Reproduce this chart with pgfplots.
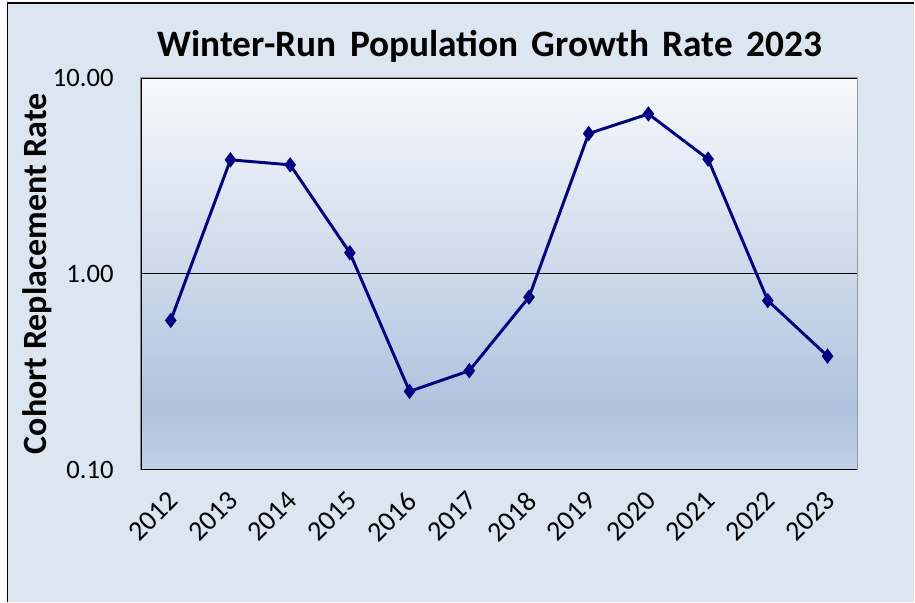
\documentclass[border=0pt]{standalone}
\usepackage{fontspec}
\setmainfont{Carlito}
\usepackage{pgfplots}
\pgfplotsset{compat=1.18}

\definecolor{chartbg}{HTML}{DCE6F1}
\definecolor{plottop}{HTML}{F7F9FC}
\definecolor{plotdark}{HTML}{AFC3DE}
\definecolor{plotbot}{HTML}{C0D0E6}
\definecolor{navyline}{HTML}{000080}
\pgfdeclareverticalshading{plotbg}{100bp}{color(0bp)=(plotbot); color(25bp)=(plotbot); color(33bp)=(plotdark); color(75bp)=(plottop); color(100bp)=(plottop)}

\begin{document}
\begin{tikzpicture}
% chart area (1px = 0.75pt)
\fill[white] (0,0) rectangle (686.25pt,451.5pt);
\fill[chartbg] (5.5pt,0) rectangle (686.25pt,449.25pt);
\draw[black, line width=1pt] (5.5pt,0) -- (5.5pt,449.25pt) -- (686.25pt,449.25pt);

\begin{axis}[
    at={(105.75pt,99pt)}, anchor=south west,
    scale only axis, width=537.75pt, height=294pt,
    ymode=log, ymin=0.1, ymax=10,
    xmin=-0.5, xmax=11.5,
    xtick={0,...,11},
    xticklabels={2012,2013,2014,2015,2016,2017,2018,2019,2020,2021,2022,2023},
    ytick={0.1,1,10}, yticklabels={0.10,1.00,10.00},
    yminorticks=false,
    major tick length=0pt,
    ymajorgrids, grid style={black, line width=0.9pt},
    axis line style={gray!80, line width=0.8pt},
    axis background/.style={shading=plotbg},
    /pgf/number format/assume math mode=true,
    yticklabel style={font=\fontsize{20}{24}\selectfont, xshift=-17pt},
    xticklabel style={font=\fontsize{21}{25}\selectfont, xshift=-3pt, yshift=-15pt, rotate=45, anchor=north east, inner sep=0pt},
    title={Winter-Run\hspace{10pt}Population\hspace{10pt}Growth\hspace{10pt}Rate\hspace{10pt}2023},
    title style={font=\bfseries\fontsize{28}{32}\selectfont, at={(rel axis cs:0.5,1)}, anchor=center, yshift=18pt, xshift=-7pt},
    ylabel={Cohort Replacement Rate},
    every axis y label/.style={at={(rel axis cs:0,0.5)}, xshift=-78pt, rotate=90, anchor=center, font=\bfseries\fontsize{25.5}{29}\selectfont},
]
\addplot[navyline, line width=2.2pt, mark=diamond*, mark size=4pt] coordinates {
  (0,0.578) (1,3.82) (2,3.60) (3,1.28) (4,0.251) (5,0.32)
  (6,0.76) (7,5.2) (8,6.55) (9,3.85) (10,0.73) (11,0.38)
};
\draw[black, line width=1pt] (rel axis cs:0,1) -- (rel axis cs:0,0) -- (rel axis cs:1,0);
\end{axis}
\end{tikzpicture}
\end{document}
